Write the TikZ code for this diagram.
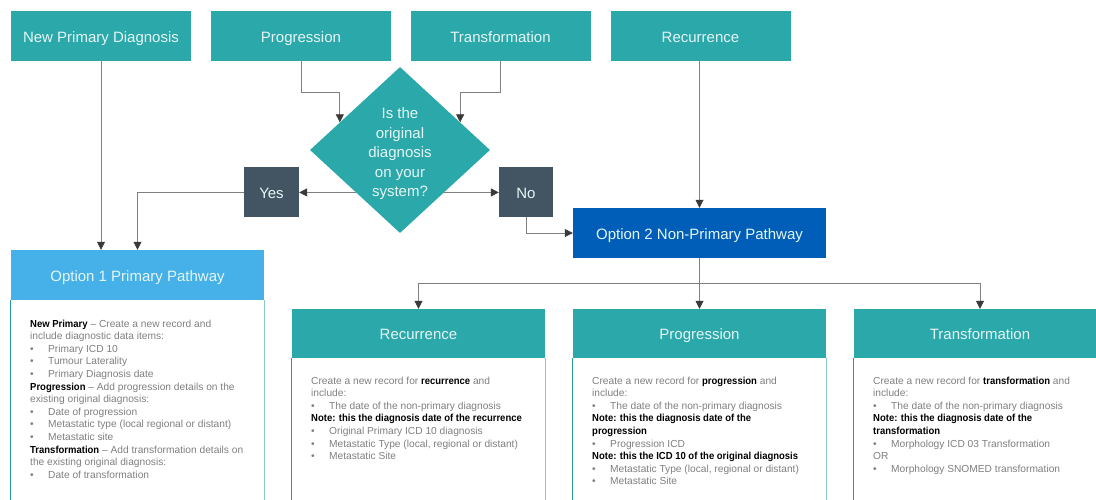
\documentclass[tikz,border=0pt]{standalone}
\usepackage{fontspec}
\setmainfont{Liberation Sans}[BoldFeatures={FakeStretch=0.93}]
\usetikzlibrary{arrows.meta,shapes.geometric,calc}
\definecolor{tealbox}{HTML}{2BA8A9}
\definecolor{slatebox}{HTML}{435563}
\definecolor{lightblue}{HTML}{46B1E9}
\definecolor{nhsblue}{HTML}{005EB8}
\definecolor{hdtext}{HTML}{E6F5F5}
\definecolor{linegray}{HTML}{808080}
\definecolor{tipdark}{HTML}{3A3A3A}
\definecolor{bodygray}{HTML}{7F7F7F}
\definecolor{edgeL}{HTML}{2A9A9A}
\definecolor{edgeR}{HTML}{8CCACA}
\newcommand\bulit{\makebox[18pt][l]{•}}
\newcommand\bk[1]{\textcolor{black}{\textbf{#1}}}
\begin{document}
\begin{tikzpicture}[x=1pt,y=-1pt,
  hdfont/.style={font=\fontsize{15}{18}\selectfont, text height=12pt, text depth=0pt},
  topbox/.style={fill=tealbox, text=hdtext, minimum width=180pt, minimum height=50pt, inner sep=0pt, hdfont},
  decbox/.style={fill=slatebox, text=hdtext, minimum height=50pt, inner sep=0pt, hdfont},
  pathbox/.style={text=hdtext, minimum width=253pt, minimum height=50pt, inner sep=0pt, hdfont},
  secbox/.style={fill=tealbox, text=hdtext, minimum width=253pt, minimum height=49pt, inner sep=0pt, hdfont},
  bodytext/.style={anchor=north west, align=left, inner sep=0pt, text=bodygray, font=\fontsize{10.2}{12.6}\selectfont},
  arr/.style={draw=linegray, line width=0.8pt, -{Triangle[width=8pt,length=8pt,color=tipdark]}},
  edgeleft/.style={draw=edgeL, line width=1pt},
  edgeright/.style={draw=edgeR, line width=1pt}]
\useasboundingbox (0,0) rectangle (1096,499);
\clip (0,0) rectangle (1096,499);

% top row
\node[topbox] (npd) at (101,36) {New Primary Diagnosis};
\node[topbox] (prg) at (301,36) {Progression};
\node[topbox] (trf) at (500.5,36) {Transformation};
\node[topbox] (rct) at (700.5,36) {Recurrence};

% decision
\node[diamond, fill=tealbox, minimum width=180pt, minimum height=166pt, inner sep=0pt] (q) at (400,150) {};
\node[text=hdtext, align=center, inner sep=0pt, font=\fontsize{15}{19.5}\selectfont] (qt) at (400,154) {Is the\\original\\diagnosis\\on your\\system?};
\node[decbox, minimum width=55pt] (yes) at (271.5,192) {Yes};
\node[decbox, minimum width=54pt] (no) at (526,192) {No};

% pathways
\node[pathbox, fill=lightblue] (opt1) at (137.5,275) {Option 1 Primary Pathway};
\node[pathbox, fill=nhsblue] (opt2) at (699.5,233) {Option 2 Non-Primary Pathway};

% sections
\node[secbox] (b1) at (418.5,333.5) {Recurrence};
\node[secbox] (b2) at (699.5,333.5) {Progression};
\node[secbox, minimum width=252pt] (b3) at (980,333.5) {Transformation};

% body frames
\draw[edgeleft] (opt1.south west) -- ++(0,220);
\draw[edgeright] (opt1.south east) -- ++(0,220);
\draw[edgeleft] (b1.south west) -- ++(0,160);
\draw[edgeright] (b1.south east) -- ++(0,160);
\draw[edgeleft] (b2.south west) -- ++(0,160);
\draw[edgeright] (b2.south east) -- ++(0,160);
\draw[edgeleft] (b3.south west) -- ++(0,160);

% body texts
\node[bodytext] (t1) at (30,319.5) {\bk{New Primary} -- Create a new record and\\
include diagnostic data items:\\
\bulit Primary ICD 10\\
\bulit Tumour Laterality\\
\bulit Primary Diagnosis date\\
\bk{Progression} -- Add progression details on the\\
existing original diagnosis:\\
\bulit Date of progression\\
\bulit Metastatic type (local regional or distant)\\
\bulit Metastatic site\\
\bk{Transformation} -- Add transformation details on\\
the existing original diagnosis:\\
\bulit Date of transformation};

\node[bodytext] (t2) at (311,376.5) {Create a new record for \bk{recurrence} and\\
include:\\
\bulit The date of the non-primary diagnosis\\
\bk{Note: this the diagnosis date of the recurrence}\\
\bulit Original Primary ICD 10 diagnosis\\
\bulit Metastatic Type (local, regional or distant)\\
\bulit Metastatic Site};

\node[bodytext] (t3) at (592,376.5) {Create a new record for \bk{progression} and\\
include:\\
\bulit The date of the non-primary diagnosis\\
\bk{Note: this the diagnosis date of the}\\
\bk{progression}\\
\bulit Progression ICD\\
\bk{Note: this the ICD 10 of the original diagnosis}\\
\bulit Metastatic Type (local, regional or distant)\\
\bulit Metastatic Site};

\node[bodytext] (t4) at (873,376.5) {Create a new record for \bk{transformation} and\\
include:\\
\bulit The date of the non-primary diagnosis\\
\bk{Note: this the diagnosis date of the}\\
\bk{transformation}\\
\bulit Morphology ICD 03 Transformation\\
OR\\
\bulit Morphology SNOMED transformation};

% connectors
\coordinate (qL) at ($(q.west)!0.333!(q.north)$);
\coordinate (qR) at ($(q.east)!0.333!(q.north)$);
\coordinate (qYs) at ($(q.west)!0.51!(q.south)$);
\coordinate (qNs) at ($(q.east)!0.51!(q.south)$);
\draw[arr] (npd.south) -- (npd.south |- opt1.north);
\draw[arr] (yes.west) -| (opt1.north);
\draw[arr] (prg.south) -- ++(0,31) -| (qL);
\draw[arr] (trf.south) -- ++(0,31) -| (qR);
\draw[arr] (qYs) -- (qYs -| yes.east);
\draw[arr] (qNs) -- (qNs -| no.west);
\draw[arr] (no.south) |- (opt2.west);
\draw[arr] (opt2.north |- rct.south) -- (opt2.north);
\draw[arr] (opt2.south) -- (b2.north);
\draw[arr] (opt2.south) -- ++(0,25) -| (b1.north);
\draw[arr] (opt2.south) -- ++(0,25) -| (b3.north);
\end{tikzpicture}
\end{document}
